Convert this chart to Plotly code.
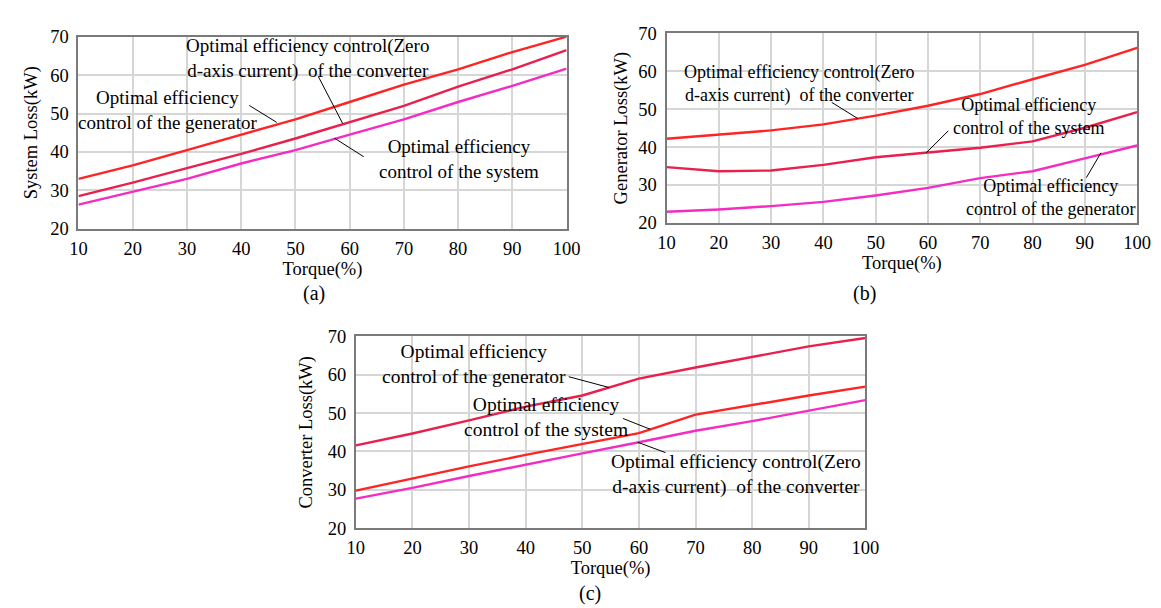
import plotly.graph_objects as go

# ---------------- data ----------------
torque = [10, 20, 30, 40, 50, 60, 70, 80, 90, 100]
x_ticks = [10, 20, 30, 40, 50, 60, 70, 80, 90, 100]
y_ticks = [20, 30, 40, 50, 60, 70]

# (a) System loss (kW)
sys_gen = [33.0, 36.5, 40.5, 44.5, 48.5, 53.0, 57.5, 61.5, 66.0, 70.0]
sys_conv = [28.5, 32.0, 35.8, 39.5, 43.5, 47.8, 52.0, 57.0, 61.5, 66.5]
sys_sys = [26.3, 29.7, 33.0, 37.0, 40.5, 44.5, 48.5, 53.0, 57.2, 61.7]

# (b) Generator loss (kW)
gen_conv = [42.2, 43.2, 44.4, 46.0, 48.3, 50.9, 54.0, 57.9, 61.7, 66.2]
gen_sys = [34.7, 33.6, 33.8, 35.3, 37.3, 38.5, 39.8, 41.5, 45.1, 49.2]
gen_gen = [22.9, 23.5, 24.4, 25.5, 27.2, 29.2, 31.8, 33.6, 37.0, 40.4]

# (c) Converter loss (kW)
conv_gen = [41.6, 44.7, 48.1, 51.7, 54.6, 59.0, 61.9, 64.7, 67.4, 69.6]
conv_sys = [29.8, 33.0, 36.1, 39.1, 42.0, 44.8, 49.6, 52.1, 54.6, 56.9]
conv_conv = [27.7, 30.5, 33.6, 36.6, 39.5, 42.4, 45.4, 47.9, 50.6, 53.4]

RED = "#ff2424"
CRIMSON = "#ea1f4e"
MAGENTA = "#f42cc2"
FONT = "Liberation Serif"

L_GEN = "Optimal efficiency<br>control of the generator"
L_SYS = "Optimal efficiency<br>control of the system"
L_CONV = "Optimal efficiency control(Zero<br>d-axis current)\u00a0 of the converter"

fig = go.Figure()

def add(x, y, axis, color, name):
    fig.add_trace(go.Scatter(x=x, y=y, mode="lines", name=name,
                             xaxis="x" + axis, yaxis="y" + axis,
                             line=dict(color=color, width=2.4),
                             showlegend=False))

add(torque, sys_gen, "", RED, "generator")
add(torque, sys_conv, "", CRIMSON, "converter")
add(torque, sys_sys, "", MAGENTA, "system")
add(torque, gen_conv, "2", RED, "converter")
add(torque, gen_sys, "2", CRIMSON, "system")
add(torque, gen_gen, "2", MAGENTA, "generator")
add(torque, conv_gen, "3", CRIMSON, "generator")
add(torque, conv_sys, "3", RED, "system")
add(torque, conv_conv, "3", MAGENTA, "converter")

def xax(domain, anchor):
    return dict(domain=domain, anchor=anchor, range=[10, 100],
                tickvals=x_ticks, ticks="outside", ticklen=2,
                tickcolor="rgba(0,0,0,0)",
                showgrid=True, gridcolor="#d6d6d6", gridwidth=1.6,
                showline=True, linecolor="#7a7a7a", linewidth=2, mirror=True,
                zeroline=False,
                tickfont=dict(family=FONT, size=18.5, color="black"),
                title=dict(text="Torque(%)", standoff=1,
                           font=dict(family=FONT, size=18.5, color="black")))

def yax(domain, anchor, title, standoff):
    return dict(domain=domain, anchor=anchor, range=[20, 70],
                tickvals=y_ticks, ticks="outside", ticklen=4,
                tickcolor="rgba(0,0,0,0)",
                showgrid=True, gridcolor="#d6d6d6", gridwidth=1.6,
                showline=True, linecolor="#7a7a7a", linewidth=2, mirror=True,
                zeroline=False,
                tickfont=dict(family=FONT, size=18.5, color="black"),
                title=dict(text=title, standoff=standoff,
                           font=dict(family=FONT, size=18.5, color="black")))

W, H = 1161, 608
fig.update_layout(
    width=W, height=H,
    margin=dict(l=0, r=0, t=0, b=0),
    paper_bgcolor="white", plot_bgcolor="white",
    font=dict(family=FONT, size=18, color="black"),
    xaxis=xax([62.7 / W, 560.7 / W], "y"),
    yaxis=yax([1 - 218 / H, 1 - 19.3 / H], "x", "System Loss(kW)", 8),
    xaxis2=xax([662.7 / W, 1142.7 / W], "y2"),
    yaxis2=yax([1 - 211.7 / H, 1 - 16 / H], "x2", "Generator Loss(kW)", 6),
    xaxis3=xax([345.7 / W, 865.5 / W], "y3"),
    yaxis3=yax([1 - 527.5 / H, 1 - 329.3 / H], "x3", "Converter Loss(kW)", 10),
)

anns = []
SIZES = {"": 19, "2": 18, "3": 19.5}
def label(text, x, y, axis):
    anns.append(dict(text=text, x=x, y=y, xref="x" + axis, yref="y" + axis,
                     showarrow=False, align="center", xanchor="center",
                     yanchor="middle",
                     font=dict(family=FONT, size=SIZES[axis], color="black")))

shapes = []
def leader(x0, y0, x1, y1, axis):
    shapes.append(dict(type="line", x0=x0, y0=y0, x1=x1, y1=y1,
                       xref="x" + axis, yref="y" + axis,
                       line=dict(color="black", width=1)))

# (a)
label(L_CONV, 52.2, 64.2, "")
label(L_GEN, 26.6, 50.9, "")
label(L_SYS, 80.1, 38.2, "")
leader(54.2, 59.7, 58.7, 47.45, "")
leader(41.5, 52.1, 46.55, 47.7, "")
leader(57.2, 43.6, 62.6, 38.75, "")
# (b)
label(L_CONV, 35.5, 56.75, "2")
label(L_SYS, 79.2, 48.0, "2")
label(L_GEN, 83.45, 26.6, "2")
leader(41.6, 51.8, 46.6, 47.5, "2")
leader(63.9, 44.3, 59.7, 38.5, "2")
leader(90.3, 31.9, 93.1, 38.5, "2")
# (c)
label(L_GEN, 30.9, 62.7, "3")
label(L_SYS, 43.6, 49.05, "3")
label(L_CONV, 77.1, 34.0, "3")
leader(47.6, 59.5, 54.7, 56.7, "3")
leader(57.2, 48.6, 62.0, 45.8, "3")
leader(59.8, 42.4, 64.7, 39.7, "3")

for t, px, py in [("(a)", 302.9, 285), ("(b)", 864.8, 285), ("(c)", 584.9, 595)]:
    anns.append(dict(text=t, x=px / W, y=1 - py / H, xref="paper", yref="paper",
                     showarrow=False, xanchor="center", yanchor="middle",
                     font=dict(family=FONT, size=20, color="black")))

fig.update_layout(annotations=anns, shapes=shapes)
fig.write_html("out.html")
